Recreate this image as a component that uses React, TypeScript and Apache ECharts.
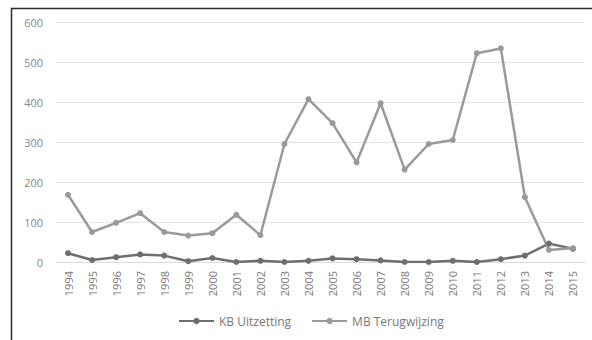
import React, { useEffect, useRef } from "react";
import * as echarts from "echarts";

const years = ["1994","1995","1996","1997","1998","1999","2000","2001","2002","2003","2004","2005","2006","2007","2008","2009","2010","2011","2012","2013","2014","2015"];
const kbUitzetting = [22, 5, 12, 19, 16, 2, 10, 0, 3, 0, 3, 9, 7, 4, 0, 0, 3, 0, 7, 16, 46, 33];
const mbTerugwijzing = [168, 75, 98, 122, 75, 66, 72, 118, 67, 295, 407, 347, 249, 397, 231, 295, 305, 522, 534, 162, 30, 35];
const yTicks = [0, 100, 200, 300, 400, 500, 600];

export default function App() {
  const ref = useRef<HTMLDivElement>(null);
  useEffect(() => {
    if (!ref.current) return;
    const chart = echarts.init(ref.current, undefined, { renderer: "svg" });
    const font = "'Open Sans', 'Liberation Sans', sans-serif";
    chart.setOption({
      animation: false,
      backgroundColor: "#fff",
      textStyle: { fontFamily: font },
      graphic: [
        { type: "line", shape: { x1: 11, y1: 8.5, x2: 592, y2: 8.5 }, style: { stroke: "#2a2a2a", lineWidth: 1.5 } },
        { type: "line", shape: { x1: 11.5, y1: 8, x2: 11.5, y2: 340 }, style: { stroke: "#2a2a2a", lineWidth: 1.5 } },
      ],
      grid: { left: 56, right: 7, top: 22, bottom: 78, containLabel: false },
      legend: {
        bottom: 8,
        left: 173,
        itemWidth: 35,
        itemHeight: 8,
        itemGap: 20,
        textStyle: { color: "#777", fontSize: 12, fontFamily: font },
        data: ["KB Uitzetting", "MB Terugwijzing"],
      },
      xAxis: {
        type: "category",
        data: years,
        boundaryGap: true,
        axisLine: { show: true, lineStyle: { color: "#d9d9d9" } },
        axisTick: { show: false },
        axisLabel: { rotate: 90, color: "#777", fontSize: 11, margin: 9, fontFamily: font },
      },
      yAxis: {
        type: "value",
        min: yTicks[0],
        max: yTicks[yTicks.length - 1],
        interval: 100,
        axisLine: { show: false },
        axisTick: { show: false },
        splitLine: { lineStyle: { color: "#e6e6e6", width: 1 } },
        axisLabel: { color: "#888", fontSize: 11, margin: 13, fontFamily: font },
      },
      series: [
        {
          name: "KB Uitzetting",
          type: "line",
          data: kbUitzetting,
          symbol: "circle",
          symbolSize: 6,
          lineStyle: { color: "#6e6e6e", width: 2.5 },
          itemStyle: { color: "#6e6e6e" },
        },
        {
          name: "MB Terugwijzing",
          type: "line",
          data: mbTerugwijzing,
          symbol: "circle",
          symbolSize: 6,
          lineStyle: { color: "#9a9a9a", width: 2.5 },
          itemStyle: { color: "#9a9a9a" },
        },
      ],
    });
    return () => chart.dispose();
  }, []);
  return (
    <div
      ref={ref}
      style={{ position: "absolute", left: 0, top: 0, width: 592, height: 340 }}
    />
  );
}
